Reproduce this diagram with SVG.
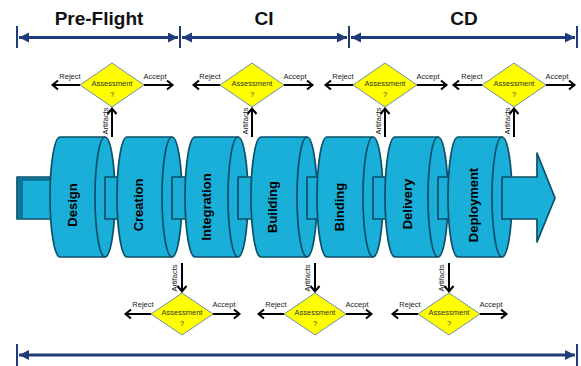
<svg xmlns="http://www.w3.org/2000/svg" width="581" height="366" viewBox="0 0 581 366">
  <style>
    .phase { font-family: "Liberation Sans", Arial, sans-serif; font-weight: bold; font-size: 19px; fill: #111; text-anchor: middle; }
    .span { stroke: #1f3b79; stroke-width: 3; fill: none; }
    .tick { stroke: #1f3b79; stroke-width: 2; }
    .cyl { fill: #1aafd9; stroke: #0b5068; stroke-width: 1.7; stroke-linejoin: round; }
    .rim { fill: none; stroke: #0b5068; stroke-width: 1.7; }
    .stage { font-family: "Liberation Sans", Arial, sans-serif; font-weight: bold; font-size: 13px; fill: #000; text-anchor: middle; }
    .gate { fill: #ffff00; stroke: #6f8cae; stroke-width: 1; }
    .gtxt { font-family: "Liberation Sans", Arial, sans-serif; font-size: 7.5px; fill: #333; text-anchor: middle; }
    .lbl { font-family: "Liberation Sans", Arial, sans-serif; font-size: 7.5px; fill: #222; text-anchor: middle; }
    .flow { stroke: #000; stroke-width: 2; fill: none; }
  </style>
  <defs>
    <marker id="navHead" markerUnits="userSpaceOnUse" markerWidth="11" markerHeight="11" refX="10" refY="5" orient="auto-start-reverse">
      <path d="M0,0 L10,5 L0,10 Z" fill="#1f3b79"/>
    </marker>
    <marker id="chev" markerUnits="userSpaceOnUse" markerWidth="10" markerHeight="12" refX="7.5" refY="6" orient="auto">
      <path d="M1.5,1.5 L7,6 L1.5,10.5" fill="none" stroke="#000" stroke-width="2"/>
    </marker>
  </defs>

  <!-- phase headings -->
  <g id="phases">
    <text class="phase" x="99" y="25">Pre-Flight</text>
    <text class="phase" x="264" y="25">CI</text>
    <text class="phase" x="464" y="25">CD</text>
  </g>

  <!-- phase spans and the overall span at the bottom -->
  <g id="spans">
    <line class="tick" x1="17" y1="26" x2="17" y2="48"/>
    <line class="tick" x1="180" y1="26" x2="180" y2="48"/>
    <line class="tick" x1="349" y1="26" x2="349" y2="48"/>
    <line class="tick" x1="577" y1="26" x2="577" y2="48"/>
    <line class="span" x1="19" y1="37.5" x2="178" y2="37.5" marker-start="url(#navHead)" marker-end="url(#navHead)"/>
    <line class="span" x1="182" y1="37.5" x2="347" y2="37.5" marker-start="url(#navHead)" marker-end="url(#navHead)"/>
    <line class="span" x1="351" y1="37.5" x2="575" y2="37.5" marker-start="url(#navHead)" marker-end="url(#navHead)"/>
    <line class="tick" x1="17" y1="344" x2="17" y2="366"/>
    <line class="tick" x1="577" y1="344" x2="577" y2="366"/>
    <line class="span" x1="19" y1="355" x2="575" y2="355" marker-start="url(#navHead)" marker-end="url(#navHead)"/>
  </g>

  <!-- pipeline inlet -->
  <g id="inlet">
    <rect class="cyl" x="17" y="177" width="42" height="42"/>
    <path d="M17.8,177.8 H58 V181 H23 V218.2 H17.8 Z" fill="#0e7699"/>
  </g>

  <!-- pipeline stages: each a cylinder with a pipe to the next one -->
  <g id="stage-design">
    <path class="cyl" d="M60,137 H105 A10,60 0 0 1 105,257 H60 A10,60 0 0 1 60,137 Z"/>
    <path class="rim" d="M105,137 A10,60 0 0 0 105,257"/>
    <rect class="cyl" x="105" y="177" width="16" height="42"/>
    <text class="stage" transform="translate(77,205) rotate(-90)">Design</text>
  </g>
  <g id="stage-creation">
    <path class="cyl" d="M127,137 H172 A10,60 0 0 1 172,257 H127 A10,60 0 0 1 127,137 Z"/>
    <path class="rim" d="M172,137 A10,60 0 0 0 172,257"/>
    <rect class="cyl" x="172" y="177" width="17" height="42"/>
    <text class="stage" transform="translate(143,205) rotate(-90)">Creation</text>
  </g>
  <g id="stage-integration">
    <path class="cyl" d="M195,137 H238 A10,60 0 0 1 238,257 H195 A10,60 0 0 1 195,137 Z"/>
    <path class="rim" d="M238,137 A10,60 0 0 0 238,257"/>
    <rect class="cyl" x="238" y="177" width="17" height="42"/>
    <text class="stage" transform="translate(211,207) rotate(-90)">Integration</text>
  </g>
  <g id="stage-building">
    <path class="cyl" d="M261,137 H307 A10,60 0 0 1 307,257 H261 A10,60 0 0 1 261,137 Z"/>
    <path class="rim" d="M307,137 A10,60 0 0 0 307,257"/>
    <rect class="cyl" x="307" y="177" width="15" height="42"/>
    <text class="stage" transform="translate(277,207) rotate(-90)">Building</text>
  </g>
  <g id="stage-binding">
    <path class="cyl" d="M327,137 H373 A10,60 0 0 1 373,257 H327 A10,60 0 0 1 327,137 Z"/>
    <path class="rim" d="M373,137 A10,60 0 0 0 373,257"/>
    <rect class="cyl" x="373" y="177" width="17" height="42"/>
    <text class="stage" transform="translate(344,207) rotate(-90)">Binding</text>
  </g>
  <g id="stage-delivery">
    <path class="cyl" d="M395,137 H438 A10,60 0 0 1 438,257 H395 A10,60 0 0 1 395,137 Z"/>
    <path class="rim" d="M438,137 A10,60 0 0 0 438,257"/>
    <rect class="cyl" x="438" y="177" width="15" height="42"/>
    <text class="stage" transform="translate(412,204) rotate(-90)">Delivery</text>
  </g>
  <g id="stage-deployment">
    <path class="cyl" d="M458,137 H502 A10,60 0 0 1 502,257 H458 A10,60 0 0 1 458,137 Z"/>
    <path class="rim" d="M502,137 A10,60 0 0 0 502,257"/>
    <text class="stage" transform="translate(478,205) rotate(-90)">Deployment</text>
  </g>

  <!-- pipeline outlet arrow -->
  <g id="outlet">
    <path class="cyl" d="M502,177 H537 V153 L555,198 L537,242 V219 H502 Z"/>
  </g>

  <!-- assessment gates above the pipeline -->
  <g id="gate-top-1">
    <polygon class="gate" points="112,63 144,85 112,107 80,85"/>
    <text class="gtxt" x="112" y="86">Assessment</text>
    <text class="gtxt" x="112" y="97">?</text>
  </g>
  <g id="gate-top-2">
    <polygon class="gate" points="252,63 284,85 252,107 220,85"/>
    <text class="gtxt" x="252" y="86">Assessment</text>
    <text class="gtxt" x="252" y="97">?</text>
  </g>
  <g id="gate-top-3">
    <polygon class="gate" points="385,63 417,85 385,107 353,85"/>
    <text class="gtxt" x="385" y="86">Assessment</text>
    <text class="gtxt" x="385" y="97">?</text>
  </g>
  <g id="gate-top-4">
    <polygon class="gate" points="514,63 546,85 514,107 482,85"/>
    <text class="gtxt" x="514" y="86">Assessment</text>
    <text class="gtxt" x="514" y="97">?</text>
  </g>

  <!-- assessment gates below the pipeline -->
  <g id="gate-bottom-1">
    <polygon class="gate" points="182,293 213,314 182,335 151,314"/>
    <text class="gtxt" x="182" y="315">Assessment</text>
    <text class="gtxt" x="182" y="326">?</text>
  </g>
  <g id="gate-bottom-2">
    <polygon class="gate" points="315,293 346,314 315,335 284,314"/>
    <text class="gtxt" x="315" y="315">Assessment</text>
    <text class="gtxt" x="315" y="326">?</text>
  </g>
  <g id="gate-bottom-3">
    <polygon class="gate" points="449,293 480,314 449,335 418,314"/>
    <text class="gtxt" x="449" y="315">Assessment</text>
    <text class="gtxt" x="449" y="326">?</text>
  </g>

  <!-- artifact, reject and accept flows -->
  <g id="connectors">
    <!-- top gates -->
    <line class="flow" x1="112" y1="137" x2="112" y2="108" marker-end="url(#chev)"/>
    <line class="flow" x1="80" y1="85" x2="52" y2="85" marker-end="url(#chev)"/>
    <line class="flow" x1="144" y1="85" x2="173" y2="85" marker-end="url(#chev)"/>
    <text class="lbl" transform="translate(108,121) rotate(-90)">Artifacts</text>
    <text class="lbl" x="70" y="79">Reject</text>
    <text class="lbl" x="155" y="79">Accept</text>

    <line class="flow" x1="252" y1="137" x2="252" y2="108" marker-end="url(#chev)"/>
    <line class="flow" x1="220" y1="85" x2="193" y2="85" marker-end="url(#chev)"/>
    <line class="flow" x1="284" y1="85" x2="313" y2="85" marker-end="url(#chev)"/>
    <text class="lbl" transform="translate(248,121) rotate(-90)">Artifacts</text>
    <text class="lbl" x="210" y="79">Reject</text>
    <text class="lbl" x="295" y="79">Accept</text>

    <line class="flow" x1="385" y1="137" x2="385" y2="108" marker-end="url(#chev)"/>
    <line class="flow" x1="353" y1="85" x2="325" y2="85" marker-end="url(#chev)"/>
    <line class="flow" x1="417" y1="85" x2="447" y2="85" marker-end="url(#chev)"/>
    <text class="lbl" transform="translate(381,121) rotate(-90)">Artifacts</text>
    <text class="lbl" x="343" y="79">Reject</text>
    <text class="lbl" x="428" y="79">Accept</text>

    <line class="flow" x1="514" y1="137" x2="514" y2="108" marker-end="url(#chev)"/>
    <line class="flow" x1="482" y1="85" x2="453" y2="85" marker-end="url(#chev)"/>
    <line class="flow" x1="546" y1="85" x2="575" y2="85" marker-end="url(#chev)"/>
    <text class="lbl" transform="translate(510,121) rotate(-90)">Artifacts</text>
    <text class="lbl" x="472" y="79">Reject</text>
    <text class="lbl" x="557" y="79">Accept</text>

    <!-- bottom gates -->
    <line class="flow" x1="182" y1="263" x2="182" y2="292" marker-end="url(#chev)"/>
    <line class="flow" x1="151" y1="314" x2="125" y2="314" marker-end="url(#chev)"/>
    <line class="flow" x1="213" y1="314" x2="240" y2="314" marker-end="url(#chev)"/>
    <text class="lbl" transform="translate(177,278) rotate(-90)">Artifacts</text>
    <text class="lbl" x="143" y="307">Reject</text>
    <text class="lbl" x="224" y="307">Accept</text>

    <line class="flow" x1="315" y1="263" x2="315" y2="292" marker-end="url(#chev)"/>
    <line class="flow" x1="284" y1="314" x2="258" y2="314" marker-end="url(#chev)"/>
    <line class="flow" x1="346" y1="314" x2="372" y2="314" marker-end="url(#chev)"/>
    <text class="lbl" transform="translate(310,278) rotate(-90)">Artifacts</text>
    <text class="lbl" x="276" y="307">Reject</text>
    <text class="lbl" x="357" y="307">Accept</text>

    <line class="flow" x1="449" y1="263" x2="449" y2="292" marker-end="url(#chev)"/>
    <line class="flow" x1="418" y1="314" x2="392" y2="314" marker-end="url(#chev)"/>
    <line class="flow" x1="480" y1="314" x2="507" y2="314" marker-end="url(#chev)"/>
    <text class="lbl" transform="translate(444,278) rotate(-90)">Artifacts</text>
    <text class="lbl" x="410" y="307">Reject</text>
    <text class="lbl" x="491" y="307">Accept</text>
  </g>
</svg>
